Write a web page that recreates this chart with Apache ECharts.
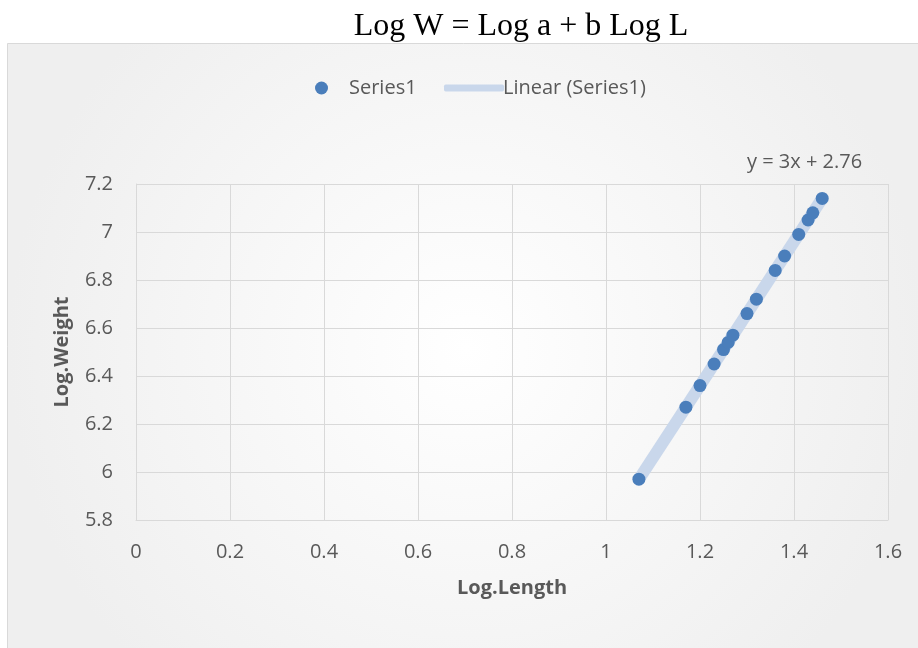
<!DOCTYPE html>
<html>
<head>
<meta charset="utf-8">
<script src="https://cdn.jsdelivr.net/npm/echarts@6/dist/echarts.min.js"></script>
<style>
html,body{margin:0;padding:0;background:#fff;}
#c{width:918px;height:648px;}
</style>
</head>
<body>
<div id="c"></div>
<script>
// Data
const logLength = [1.07, 1.17, 1.20, 1.23, 1.25, 1.26, 1.27, 1.30, 1.32, 1.36, 1.38, 1.41, 1.43, 1.44, 1.46];
const logWeight = [5.97, 6.27, 6.36, 6.45, 6.51, 6.54, 6.57, 6.66, 6.72, 6.84, 6.90, 6.99, 7.05, 7.08, 7.14];
const trendX = [1.07, 1.46];
const trendY = [5.97, 7.14];
const xTicks = [0, 0.2, 0.4, 0.6, 0.8, 1, 1.2, 1.4, 1.6];
const yTicks = [5.8, 6, 6.2, 6.4, 6.6, 6.8, 7, 7.2];
const titleText = 'Log W = Log a + b Log L';
const equationText = 'y = 3x + 2.76';

const FONT = '"Open Sans", sans-serif';
const GRAY = '#595959';

const chart = echarts.init(document.getElementById('c'), null, {renderer: 'canvas'});
const option = {
  animation: false,
  backgroundColor: '#ffffff',
  title: {
    text: titleText,
    left: 516, top: 6,
    textAlign: 'center',
    textStyle: {fontFamily: '"Liberation Serif", "Times New Roman", serif', fontSize: 32, fontWeight: 'normal', color: '#000'}
  },
  graphic: [
    {
      type: 'rect', z: -10, silent: true,
      shape: {x: 7.5, y: 43.5, width: 918, height: 610},
      style: {
        fill: new echarts.graphic.RadialGradient(0.5, 0.5, 0.75, [
          {offset: 0, color: '#ffffff'},
          {offset: 1, color: '#efefef'}
        ]),
        stroke: '#d9d9d9', lineWidth: 1
      }
    },
    {
      type: 'text', left: 747, top: 152,
      style: {text: equationText, fontFamily: FONT, fontSize: 20, fill: GRAY}
    }
  ],
  legend: [
    {
      data: ['Series1'], left: 310, top: 73,
      icon: 'circle', itemWidth: 13, itemHeight: 13, itemGap: 0,
      textStyle: {fontFamily: FONT, fontSize: 20, color: GRAY, padding: [0, 0, 0, 16]}
    },
    {
      data: ['Linear (Series1)'], left: 439, top: 73,
      icon: 'roundRect', itemWidth: 60, itemHeight: 7,
      textStyle: {fontFamily: FONT, fontSize: 20, color: GRAY, padding: [0, 0, 0, -6]}
    }
  ],
  grid: {left: 136, right: 30, top: 184, bottom: 128, containLabel: false},
  xAxis: {
    type: 'value', min: xTicks[0], max: xTicks[xTicks.length - 1], interval: 0.2,
    name: 'Log.Length', nameLocation: 'middle', nameGap: 58,
    nameTextStyle: {fontFamily: FONT, fontSize: 20, fontWeight: 'bold', color: GRAY},
    axisLine: {show: true, lineStyle: {color: '#d9d9d9'}},
    axisTick: {show: false},
    axisLabel: {fontFamily: FONT, fontSize: 20, color: GRAY, margin: 22,
      formatter: v => String(Math.round(v * 10) / 10)},
    splitLine: {show: true, lineStyle: {color: '#d9d9d9', width: 1}}
  },
  yAxis: {
    type: 'value', min: yTicks[0], max: yTicks[yTicks.length - 1], interval: 0.2,
    name: 'Log.Weight', nameLocation: 'middle', nameGap: 64, nameRotate: 90,
    nameTextStyle: {fontFamily: FONT, fontSize: 20, fontWeight: 'bold', color: GRAY},
    axisLine: {show: true, lineStyle: {color: '#d9d9d9'}},
    axisTick: {show: false},
    axisLabel: {fontFamily: FONT, fontSize: 20, color: GRAY, margin: 23,
      formatter: v => String(Math.round(v * 10) / 10)},
    splitLine: {show: true, lineStyle: {color: '#d9d9d9', width: 1}}
  },
  series: [
    {
      name: 'Linear (Series1)', type: 'line', z: 1,
      data: trendX.map((x, i) => [x, trendY[i]]),
      symbol: 'none', itemStyle: {color: '#c9d7eb'},
      lineStyle: {color: '#c9d7eb', width: 12, cap: 'butt'}
    },
    {
      name: 'Series1', type: 'scatter', z: 3,
      data: logLength.map((x, i) => [x, logWeight[i]]),
      symbol: 'circle', symbolSize: 13,
      itemStyle: {color: '#4a7ebb', opacity: 1}
    }
  ]
};
chart.setOption(option);
</script>
</body>
</html>
